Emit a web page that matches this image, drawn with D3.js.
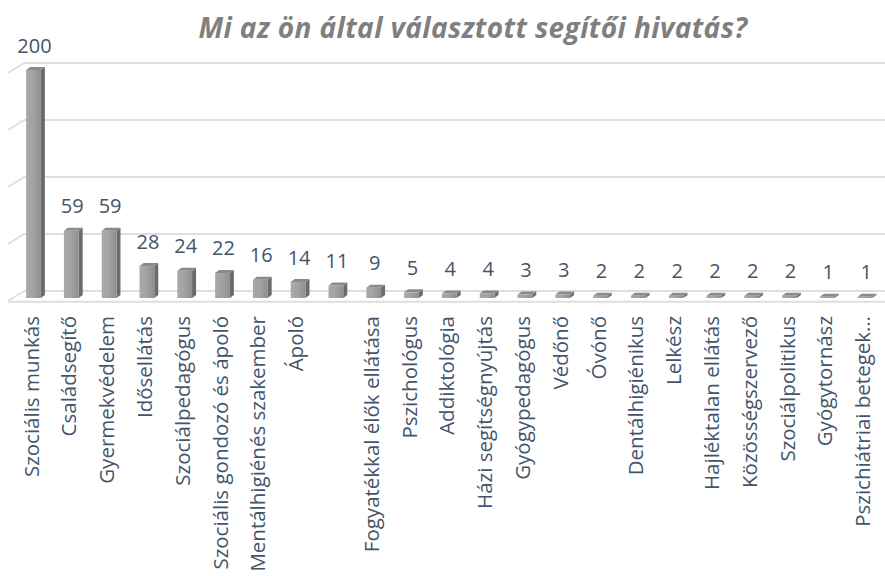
<!DOCTYPE html>
<html>
<head>
<meta charset="utf-8">
<script src="https://cdn.jsdelivr.net/npm/d3@7"></script>
<style>
  html, body { margin: 0; padding: 0; background: #fff; }
  svg { display: block; font-family: "Open Sans", sans-serif; }
</style>
</head>
<body>
<svg id="chart"></svg>
<script>
const categories = [
  "Szociális munkás", "Családsegítő", "Gyermekvédelem", "Idősellátás",
  "Szociálpedagógus", "Szociális gondozó és ápoló", "Mentálhigiénés szakember",
  "Ápoló", "", "Fogyatékkal élők ellátása", "Pszichológus", "Addiktológia",
  "Házi segítségnyújtás", "Gyógypedagógus", "Védőnő", "Óvónő", "Dentálhigiénikus",
  "Lelkész", "Hajléktalan ellátás", "Közösségszervező", "Szociálpolitikus",
  "Gyógytornász", "Pszichiátriai betegek…"
];
const values = [200, 59, 59, 28, 24, 22, 16, 14, 11, 9, 5, 4, 4, 3, 3, 2, 2, 2, 2, 2, 2, 1, 1];
const gridTicks = [0, 50, 100, 150, 200];
const title = "Mi az ön által választott segítői hivatás?";

const W = 885, H = 576;
const svg = d3.select("#chart").attr("width", W).attr("height", H);

// 3D depth of the bars and of the back wall
const dx = 4, dy = -3;
const wallDy = -7;

const x = d3.scaleBand()
  .domain(d3.range(categories.length))
  .range([14.6, 884])
  .paddingInner(0.61)
  .paddingOuter(0.305);

const y = d3.scaleLinear().domain([0, 200]).range([298, 70]);

const defs = svg.append("defs");
const grad = defs.append("linearGradient").attr("id", "front")
  .attr("x1", 0).attr("x2", 1).attr("y1", 0).attr("y2", 0);
grad.append("stop").attr("offset", "0%").attr("stop-color", "#a9a9a9");
grad.append("stop").attr("offset", "45%").attr("stop-color", "#a3a3a3");
grad.append("stop").attr("offset", "100%").attr("stop-color", "#8e8e8e");

// title
svg.append("text")
  .attr("x", 473).attr("y", 38)
  .attr("text-anchor", "middle")
  .style("font-size", "28px")
  .style("letter-spacing", "0.4px")
  .style("font-weight", "bold")
  .style("font-style", "italic")
  .style("fill", "#7f7f7f")
  .text(title);

// gridlines on the back wall, with the short diagonal of the side wall
const grid = svg.append("g").attr("stroke", "#dadfe7").attr("stroke-width", 2).attr("fill", "none");
gridTicks.forEach(t => {
  const yb = y(t) + wallDy;
  grid.append("line").attr("x1", 24).attr("x2", W).attr("y1", yb).attr("y2", yb);
  grid.append("line").attr("x1", 8).attr("x2", 24).attr("y1", yb + 10).attr("y2", yb);
});
// front edge of the floor
grid.append("line").attr("x1", 8).attr("x2", W).attr("y1", y(0) + 3.7).attr("y2", y(0) + 3.7);

// bars
const bars = svg.append("g").selectAll("g").data(values).join("g");
bars.each(function (v, i) {
  const g = d3.select(this);
  const x0 = x(i), x1 = x(i) + x.bandwidth();
  const yt = y(v), yb = y(0);
  g.append("polygon")
    .attr("points", [[x1, yt], [x1 + dx, yt + dy], [x1 + dx, yb + dy], [x1, yb]].join(" "))
    .attr("fill", "#6b6b6b");
  g.append("polygon")
    .attr("points", [[x0, yt], [x0 + dx, yt + dy], [x1 + dx, yt + dy], [x1, yt]].join(" "))
    .attr("fill", "#8a8a8a");
  g.append("rect")
    .attr("x", x0).attr("y", yt)
    .attr("width", x.bandwidth()).attr("height", Math.max(0, yb - yt))
    .attr("fill", "url(#front)");
});

// value labels
svg.append("g").selectAll("text").data(values).join("text")
  .attr("x", (d, i) => x(i) + x.bandwidth() / 2 + 1)
  .attr("y", d => y(d) - 17.5)
  .attr("text-anchor", "middle")
  .style("font-size", "20px")
  .style("fill", "#44546a")
  .text(d => d);

// category labels
svg.append("g").selectAll("text").data(categories).join("text")
  .attr("transform", (d, i) => `translate(${x(i) + x.bandwidth() / 2 - 2},316) rotate(-90)`)
  .attr("dy", "0.35em")
  .attr("text-anchor", "end")
  .style("font-size", "20.5px")
  .style("fill", "#44546a")
  .text(d => d);
</script>
</body>
</html>
